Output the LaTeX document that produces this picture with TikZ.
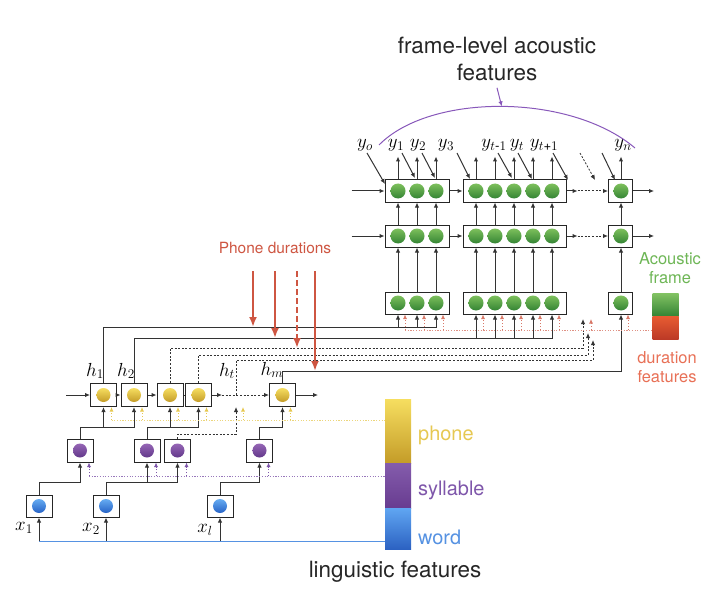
\RequirePackage{fix-cm}
\documentclass[tikz,border=0pt]{standalone}
\usepackage{amsmath}
\usepackage{fontspec}
\setmainfont{TeX Gyre Heros}
\usetikzlibrary{arrows.meta,positioning,calc}
\definecolor{gtop}{RGB}{125,192,92}
\definecolor{gbot}{RGB}{52,132,52}
\definecolor{ytop}{RGB}{246,222,96}
\definecolor{ybot}{RGB}{196,156,40}
\definecolor{vtop}{RGB}{150,102,182}
\definecolor{vbot}{RGB}{98,56,138}
\definecolor{btop}{RGB}{102,172,242}
\definecolor{bbot}{RGB}{38,98,198}
\definecolor{durred}{RGB}{206,86,66}
\definecolor{durtxt}{RGB}{232,112,86}
\definecolor{acgreen}{RGB}{110,182,86}
\definecolor{phyel}{RGB}{230,200,82}
\definecolor{sypur}{RGB}{126,86,170}
\definecolor{wdblue}{RGB}{86,146,226}
\definecolor{arcpur}{RGB}{136,88,186}
\newcommand{\wirew}{1bp}
\newcommand{\ballsz}{15bp}

\tikzset{
  cell/.style={draw=black!85, line width=\wirew, fill=white, minimum height=22bp, inner sep=0pt},
  ball/.style={circle, minimum size=\ballsz, inner sep=0pt},
  gball/.style={ball, top color=gtop, bottom color=gbot},
  yball/.style={ball, minimum size=14bp, top color=ytop, bottom color=ybot},
  vball/.style={ball, minimum size=14bp, top color=vtop, bottom color=vbot},
  bball/.style={ball, minimum size=14bp, top color=btop, bottom color=bbot},
  bar/.style={rectangle, minimum width=26bp, inner sep=0pt},
  wire/.style={draw=black!80, line width=\wirew},
  arr/.style={-{Latex[length=5bp,width=4.5bp]}},
  sarr/.style={-{Latex[length=4.5bp,width=4bp]}},
  dots/.style={dash pattern=on 2bp off 1.6bp},
  fine/.style={line width=0.8bp, dash pattern=on 1.5bp off 1.5bp},
  durline/.style={draw=durred, line width=2bp, -{Latex[length=10bp,width=8bp]}},
  lab/.style={font=\fontsize{19}{22}\selectfont, inner sep=0pt},
  big/.style={font=\fontsize{22.5}{28}\selectfont, text=black!85, align=center},
  leg/.style={font=\fontsize{20}{24}\selectfont, anchor=west, inner sep=0pt},
  side/.style={font=\fontsize{16.5}{19}\selectfont, align=center}
}

\begin{document}
\begin{tikzpicture}[x=1bp,y=-1bp]
\useasboundingbox (0,0) rectangle (726,596);

%Acoustic layers
\foreach \lay/\y in {f/303,g/236,o/191} {
    \node[cell, minimum width=64bp] (\lay A) at (417,\y) {};
    \node[cell, minimum width=103bp] (\lay B) at (514.5,\y) {};
    \node[cell, minimum width=24bp] (\lay C) at (620.5,\y) {};
    \foreach \i/\x in {1/398,2/417,3/436}
        \node[gball] (\lay A\i) at (\x,\y) {};
    \foreach \i/\x in {1/476,2/495,3/514,4/533,5/552}
        \node[gball] (\lay B\i) at (\x,\y) {};
    \node[gball] (\lay C1) at (621,\y) {};
}
\foreach \g/\k in {A/3,B/5,C/1} {
    \foreach \i in {1,...,\k} {
        \draw[wire,arr] (f\g\i |- f\g.north) -- (g\g\i |- g\g.south);
        \draw[wire,arr] (g\g\i |- g\g.north) -- (o\g\i |- o\g.south);
        \draw[wire,arr] (o\g\i |- o\g.north) -- ++(0,-23);
    }
}
\foreach \lay in {g,o} {
    \draw[wire,arr] ([xshift=-33bp]\lay A.west) -- (\lay A);
    \draw[wire,arr] (\lay A) -- (\lay B);
    \draw[wire,arr] (\lay B.east) -- ++(11,0) coordinate (\lay mid);
    \draw[wire,dots,arr] (\lay mid) -- (\lay C);
    \draw[wire,arr] (\lay C.east) -- ++(21,0);
}

%Outputs fed back
\foreach \n/\lx/\txt in {0/365/{y_o},1/396/{y_1},2/418/{y_2},3/446/{y_3},4/494/{y_{t\text{-}1}},5/517/{y_t},6/544/{y_{t\text{+}1}},7/623/{y_n}}
    \node[lab] (ly\n) at (\lx,145) {$\txt$};
\foreach \n/\sx/\ex/\ey in {0/367/385/184,1/402/415/178,2/422/435/178,3/457/470/179,4/498/512/178,5/518/532/179,6/553/568/180,8/602/615/180} {
    \coordinate (fs\n) at (\sx,153);
    \coordinate (fe\n) at (\ex,\ey);
    \draw[wire,arr] (fs\n) -- (fe\n);
}
\coordinate (fs7) at (580,153);
\coordinate (fe7) at (595,180);
\draw[wire,dots,arr,line width=0.8bp] (fs7) -- (fe7);

\draw[arcpur, line width=1bp] (379,145) .. controls (430,93) and (570,93) .. (635,148) coordinate[pos=0.5] (atop);
\node[big] (ttl) at (497,59) {frame-level acoustic\\features};
\draw[arcpur, line width=1bp, -{Latex[length=5bp,width=4.5bp]}] ([yshift=-3bp]ttl.south) -- (atop);

%Phone layer
\foreach \n/\x in {p1/103.5,p2/134,p3/170,p4/198.5,pm/282.5} {
    \node[cell, minimum width=26bp, minimum height=23bp] (\n) at (\x,395) {};
    \node[yball] (\n c) at (\x,395) {};
}
\coordinate (ht) at (236,395);
\draw[wire,arr] ([xshift=-24bp]p1.west) -- (p1);
\draw[wire,arr] (p1) -- (p2);
\draw[wire,arr] (p2) -- (p3);
\draw[wire] (p3) -- (p4);
\draw[wire,arr] (p4.east) -- ++(10,0) coordinate (pmid);
\draw[wire,dots,arr] (pmid) -- (pm);
\draw[wire,arr] (pm.east) -- ++(22,0);
\node[lab] (lh1) at (95,371) {$h_1$};
\node[lab] (lh2) at (126,371) {$h_2$};
\node[lab] (lht) at (227,371) {$h_t$};
\node[lab] (lhm) at (272,370) {$h_m$};

%Phone to acoustic
\coordinate (bus1) at (0,327);
\coordinate (bus2) at (0,338);
\coordinate (bus3) at (0,348);
\coordinate (bus4) at (0,355);
\coordinate (bus5) at (0,360);
\coordinate (bus6) at (0,371);
\coordinate (q1) at (583,319);
\coordinate (q2) at (588,333);
\coordinate (q3) at (593,340);
\draw[wire,arr] (p1.north) |- (bus1 -| fA3) -- (fA3 |- fA.south);
\foreach \i in {1,2}
    \draw[wire,arr] (bus1 -| fA\i) -- (fA\i |- fA.south);
\draw[wire,arr] (p2.north) |- (bus2 -| fB5) -- (fB5 |- fB.south);
\foreach \i in {1,...,4}
    \draw[wire,arr] (bus2 -| fB\i) -- (fB\i |- fB.south);
\draw[wire,dots,arr] (p3.north) |- (bus3 -| q1) -- (q1);
\draw[wire,dots,arr] (p4.north) |- (bus4 -| q2) -- (q2);
\draw[wire,dots,arr] (ht) |- (bus5 -| q3) -- (q3);
\draw[wire,arr] (pm.north) |- (bus6 -| fC1) -- (fC1 |- fC.south);

%Phone durations
\node[font=\fontsize{15.5}{18}\selectfont, text=durred] (pd) at (275,248) {Phone durations};
\coordinate (pd1) at (253,271);
\coordinate (pd2) at (275,271);
\coordinate (pd3) at (297,271);
\coordinate (pd4) at (315,271);
\draw[durline] (pd1) -- (pd1 |- bus1);
\draw[durline] (pd2) -- (pd2 |- bus2);
\draw[durline, dash pattern=on 6bp off 3bp] (pd3) -- (pd3 |- bus3);
\draw[durline] (pd4) -- (pd4 |- bus6);

%Duration features
\coordinate (rbus) at (0,330);
\node[bar, minimum height=23bp, top color=gtop!95!white, bottom color=gbot] (lgac) at (665.5,304.5) {};
\node[bar, minimum height=23bp, top color={rgb,255:red,232;green,92;blue,50}, bottom color={rgb,255:red,188;green,58;blue,38}] (lgdur) at (665.5,327.5) {};
\foreach \g/\k in {A/3,B/5,C/1} {
    \foreach \i in {1,...,\k}
        \draw[durred!80, fine, sarr] ([xshift=7bp]f\g\i |- rbus) -- ([xshift=7bp]f\g\i |- f\g.south);
}
\draw[durred!80, fine, sarr] ([xshift=8bp]q1 |- rbus) -- ([xshift=8bp]q1);
\draw[durred!65, line width=0.7bp, dash pattern=on 1.2bp off 1.5bp] ([xshift=7bp]fA1 |- rbus) -- (rbus -| lgdur.west);
\node[side, text=acgreen] (tac) at (670,268) {Acoustic\\frame};
\node[side, text=durtxt] (tdur) at (667,367) {duration\\features};

%Syllable layer
\foreach \n/\x in {s1/80,s2/147,s3/177.5,s4/259.5} {
    \node[cell, minimum width=26bp, minimum height=23bp] (\n) at (\x,450.5) {};
    \node[vball] (\n c) at (\x,450.5) {};
}
\coordinate (sbus) at (0,427);
\coordinate (sdbus) at (0,434);
\draw[wire,arr] (s1.north) |- (sbus -| p2) -- (p2.south);
\draw[wire,arr] (sbus -| p1) -- (p1.south);
\draw[wire,arr] (s2.north) |- (sbus -| p4) -- (p4.south);
\draw[wire,arr] (sbus -| p3) -- (p3.south);
\draw[wire,dots,arr] (s3.north) |- (sdbus -| ht) -- ([yshift=-12bp]ht);
\draw[wire,arr] (s4.north) |- (sbus -| pm) -- (pm.south);

%Word layer
\foreach \n/\x in {w1/39,w2/106,w3/220} {
    \node[cell, minimum width=26bp] (\n) at (\x,506) {};
    \node[bball] (\n c) at (\x,506) {};
}
\coordinate (wbus) at (0,482);
\draw[wire,arr] (w1.north) |- (wbus -| s1) -- (s1.south);
\draw[wire,arr] (w2.north) |- (wbus -| s3) -- (s3.south);
\draw[wire,arr] (wbus -| s2) -- (s2.south);
\draw[wire,arr] (w3.north) |- (wbus -| s4) -- (s4.south);
\node[lab] (lx1) at (24,528) {$x_1$};
\node[lab] (lx2) at (91,529) {$x_2$};
\node[lab] (lxl) at (205,530) {$x_l$};

%Linguistic legend
\node[bar, minimum height=64bp, top color=ytop, bottom color=ybot] (lgph) at (398,431) {};
\node[bar, minimum height=45bp, top color={rgb,255:red,132;green,92;blue,172}, bottom color={rgb,255:red,104;green,60;blue,144}] (lgsy) at (398,485.5) {};
\node[bar, minimum height=41bp, top color={rgb,255:red,96;green,166;blue,242}, bottom color={rgb,255:red,44;green,98;blue,194}] (lgwd) at (398,528.5) {};
\node[leg, text=phyel] (tph) at (418,435) {phone};
\node[leg, text=sypur] (tsy) at (418,490) {syllable};
\node[leg, text=wdblue] (twd) at (418,537) {word};

\coordinate (ybus) at (0,420);
\coordinate (vbus) at (0,476);
\coordinate (ibus) at (0,541);
\foreach \n in {p1,p2,p3,p4,pm}
    \draw[phyel, fine, sarr] ([xshift=8bp]\n.south |- ybus) -- ([xshift=8bp]\n.south);
\draw[phyel, fine, sarr] ([xshift=7bp]ht |- ybus) -- ([xshift=7bp,yshift=-12bp]ht);
\draw[phyel!75, line width=0.7bp, dash pattern=on 1.2bp off 1.5bp] ([xshift=8bp]p1.south |- ybus) -- (ybus -| lgph.west);
\foreach \n in {s1,s2,s3,s4}
    \draw[sypur, fine, sarr] ([xshift=9bp]\n.south |- vbus) -- ([xshift=9bp]\n.south);
\draw[sypur!80, line width=0.7bp, dash pattern=on 1.2bp off 1.5bp] ([xshift=9bp]s1.south |- vbus) -- (vbus -| lgsy.west);
\draw[wdblue, line width=1bp] (ibus -| w1) -- (ibus -| lgwd.west);
\foreach \n in {w1,w2,w3}
    \draw[wire,arr] (ibus -| \n) -- (\n.south);

\node[big] (tling) at (395,572) {linguistic features};

\end{tikzpicture}
\end{document}
